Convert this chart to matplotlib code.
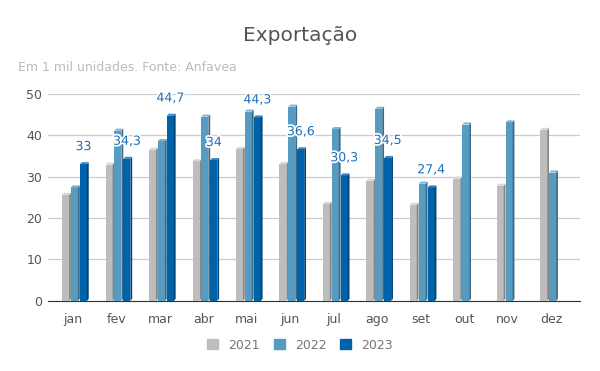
import matplotlib.pyplot as plt
import matplotlib.patheffects as pe
from matplotlib.patches import Patch

# data (mil unidades)
meses = ['jan', 'fev', 'mar', 'abr', 'mai', 'jun', 'jul', 'ago', 'set', 'out', 'nov', 'dez']
v2021 = [25.6, 32.9, 36.5, 33.7, 36.7, 33.1, 23.4, 29.0, 23.2, 29.5, 27.8, 41.3]
v2022 = [27.4, 41.1, 38.6, 44.5, 45.7, 46.9, 41.5, 46.4, 28.3, 42.6, 43.1, 31.0]
v2023 = [33.0, 34.3, 44.7, 34.0, 44.3, 36.6, 30.3, 34.5, 27.4]
anos = ['2021', '2022', '2023']

front = ['#bdbdbd', '#579cc0', '#0062a8']
side = ['#858585', '#3a6a86', '#00457a']
top = ['#d6d6d6', '#7fb5d3', '#3a86c2']

fig = plt.figure(figsize=(6, 3.71), dpi=100)
ax = fig.add_axes([0.08, 0.189, 0.887, 0.558])

fw = 0.16   # front width
d = 0.042   # depth of side
dy = 0.5    # slant of the top
x_start = -0.25

series = [v2021, v2022, v2023]
for k, vals in enumerate(series):
    xs = [i + x_start + k * 0.205 for i in range(len(vals))]
    ax.bar(xs, vals, width=fw, align='edge', color=front[k], zorder=3, linewidth=0)
    for x0, h in zip(xs, vals):
        ax.fill([x0 + fw, x0 + fw + d, x0 + fw + d, x0 + fw],
                [0, dy, h + dy, h], color=side[k], zorder=3, lw=0)
        ax.fill([x0, x0 + d, x0 + fw + d, x0 + fw],
                [h, h + dy, h + dy, h], color=top[k], zorder=3, lw=0)

# labels only for 2023
for i, v in enumerate(v2023):
    txt = f'{v:g}'.replace('.', ',')
    ax.annotate(txt, (i + x_start + 2 * 0.205 + fw / 2, v), xytext=(0, 8),
                textcoords='offset points', ha='center', va='bottom', fontsize=9,
                color='#1f6fb8', zorder=5, annotation_clip=False,
                path_effects=[pe.withStroke(linewidth=2.5, foreground='white')])

ax.set_xlim(-0.575, 11.67)
ax.set_ylim(0, 50)
ax.set_yticks([0, 10, 20, 30, 40, 50])
ax.set_xticks(range(12))
ax.set_xticklabels(meses)
ax.grid(axis='y', color='#cccccc', linewidth=0.9, zorder=0)
for s in ['top', 'right', 'left']:
    ax.spines[s].set_visible(False)
ax.spines['bottom'].set_color('#333333')
ax.tick_params(axis='both', length=0, labelsize=9, colors='#555555')
ax.tick_params(axis='x', pad=9)
ax.tick_params(axis='y', pad=4)

fig.text(0.5, 0.905, 'Exportação', ha='center', va='center', fontsize=14.5, color='#555555')
fig.text(0.03, 0.818, 'Em 1 mil unidades. Fonte: Anfavea', ha='left', va='center',
         fontsize=9, color='#bbbbbb')

handles = [Patch(color=c) for c in front]
fig.legend(handles, anos, loc='center', bbox_to_anchor=(0.5, 0.07), ncol=3, frameon=False,
           fontsize=9, labelcolor='#777777', handlelength=0.9, handleheight=0.9,
           columnspacing=1.1, handletextpad=0.8)

fig.savefig('out.png', dpi=100)
